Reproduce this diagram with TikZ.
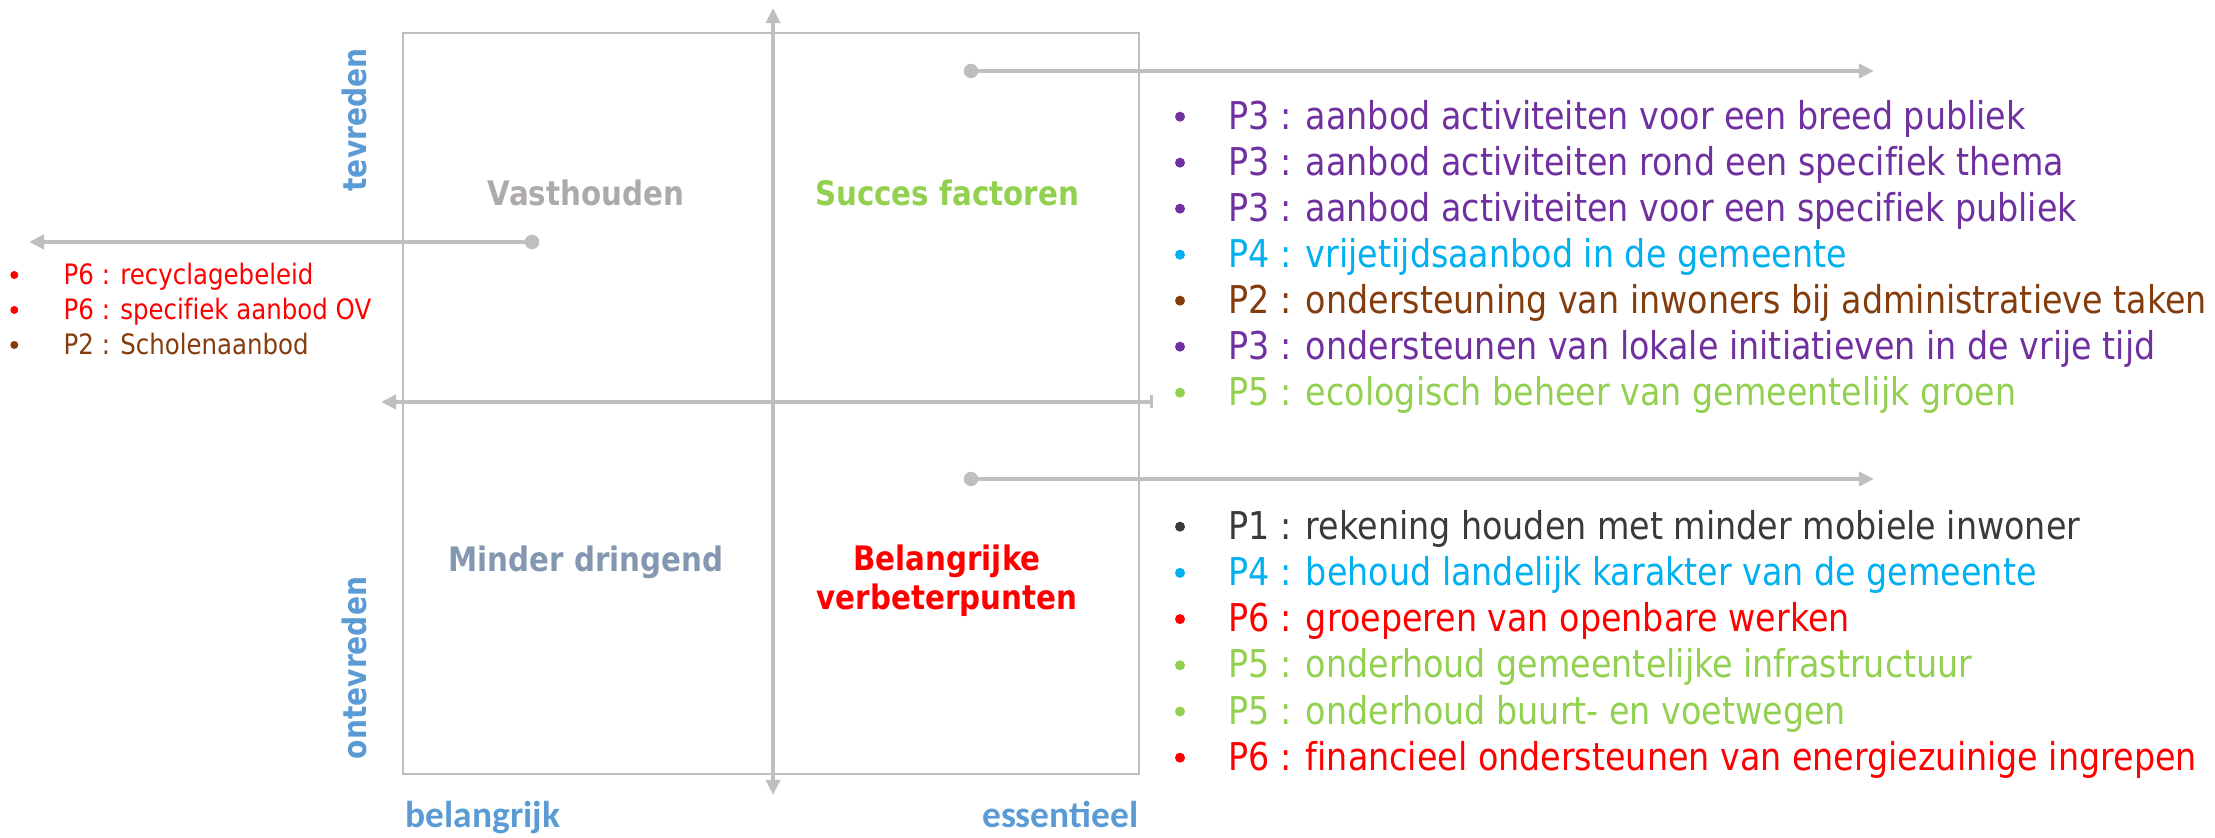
\documentclass[tikz,border=0pt]{standalone}
\usepackage{fontspec}
\setmainfont[FakeStretch=0.87, Ligatures=NoCommon]{DejaVu Sans}
\newfontfamily\calibrifont{Carlito}
\usetikzlibrary{arrows.meta}

\definecolor{linegray}{HTML}{BFBFBF}
\definecolor{keepgray}{HTML}{AEAAAA}
\definecolor{lessgray}{HTML}{8497B0}
\definecolor{axisblue}{HTML}{5B9BD5}
\definecolor{okgreen}{HTML}{92D050}
\definecolor{pone}{HTML}{3A3A3A}
\definecolor{ptwo}{HTML}{843C0C}
\definecolor{pthree}{HTML}{7030A0}
\definecolor{pfour}{HTML}{00B0F0}
\definecolor{psix}{HTML}{FF0000}

\tikzset{
  quadbox/.style={draw=linegray, line width=0.7pt},
  axisline/.style={draw=linegray, line width=1pt},
  leader/.style={draw=linegray, line width=1.1pt, -{Triangle[length=4.3pt, width=4pt]}},
  leaderdot/.style={circle, fill=linegray, inner sep=0pt, minimum size=1.45mm},
  quadlabel/.style={inner sep=0pt, font=\fontsize{9.6}{11.1}\selectfont\bfseries},
  sidelabel/.style={inner sep=0pt, text=axisblue, rotate=90, font=\fontsize{9.2}{11}\selectfont\bfseries},
  endlabel/.style={inner sep=0pt, text=axisblue, font=\calibrifont\bfseries\fontsize{10.65}{12}\selectfont},
  itembullet/.style={circle, inner sep=0pt, minimum size=1mm},
  itemtext/.style={inner sep=0pt, anchor=base west, font=\fontsize{10.9}{13}\selectfont},
  smallbullet/.style={circle, inner sep=0pt, minimum size=0.8mm},
  smalltext/.style={inner sep=0pt, anchor=base west, font=\fontsize{8}{10}\selectfont}
}

\begin{document}
\begin{tikzpicture}
  \useasboundingbox (0,0) rectangle (22.15,8.38);

  \draw[quadbox] (4.03,0.64) rectangle (11.39,8.05);

  \coordinate (vbot) at (7.73,0.43);
  \coordinate (vtop) at (7.73,8.30);
  \coordinate (hright) at (11.53,4.36);
  \coordinate (hleft) at (3.81,4.36);
  \draw[axisline, {Triangle[length=4.3pt, width=4pt]}-{Triangle[length=4.3pt, width=4pt]}] (vbot) -- (vtop);
  \draw[axisline, {Bar[width=3.7pt]}-{Triangle[length=4.3pt, width=4pt]}] (hright) -- (hleft);

  \node[sidelabel] (tevreden) at (3.54,7.18) {tevreden};
  \node[sidelabel] (ontevreden) at (3.54,1.70) {ontevreden};
  \node[endlabel, anchor=base west] (belangrijk) at (4.05,0.10) {belangrijk};
  \node[endlabel, anchor=base east] (essentieel) at (11.39,0.10) {essentieel};

  \node[quadlabel, text=keepgray, anchor=base] (vasthouden) at (5.86,6.32) {Vasthouden};
  \node[quadlabel, text=okgreen, anchor=base] (succes) at (9.47,6.32) {Succes factoren};
  \node[quadlabel, text=lessgray, anchor=base] (minder) at (5.86,2.66) {Minder dringend};
  \node[quadlabel, text=psix, align=center] (verbeter) at (9.47,2.57) {Belangrijke\\verbeterpunten};

  \node[leaderdot] (dotsucces) at (9.71,7.67) {};
  \node[leaderdot] (dotverbeter) at (9.71,3.59) {};
  \node[leaderdot] (dotvast) at (5.32,5.96) {};
  \coordinate (endsucces) at (18.74,7.67);
  \coordinate (endverbeter) at (18.74,3.59);
  \coordinate (endvast) at (0.29,5.96);
  \draw[leader] (dotsucces.center) -- (endsucces);
  \draw[leader] (dotverbeter.center) -- (endverbeter);
  \draw[leader] (dotvast.center) -- (endvast);

  \foreach \col/\txt [count=\i] in {
      pthree/P3 : aanbod activiteiten voor een breed publiek,
      pthree/P3 : aanbod activiteiten rond een specifiek thema,
      pthree/P3 : aanbod activiteiten voor een specifiek publiek,
      pfour/P4 : vrijetijdsaanbod in de gemeente,
      ptwo/P2 : ondersteuning van inwoners bij administratieve taken,
      pthree/P3 : ondersteunen van lokale initiatieven in de vrije tijd,
      okgreen/P5 : ecologisch beheer van gemeentelijk groen} {
    \node[itembullet, fill=\col] (sb\i) at (11.80,{7.213-0.46*(\i-1)}) {};
    \node[itemtext, text=\col] (st\i) at (12.28,{7.087-0.46*(\i-1)}) {\txt};
  }

  \foreach \col/\txt [count=\i] in {
      pone/P1 : rekening houden met minder mobiele inwoner,
      pfour/P4 : behoud landelijk karakter van de gemeente,
      psix/P6 : groeperen van openbare werken,
      okgreen/P5 : onderhoud gemeentelijke infrastructuur,
      okgreen/P5 : onderhoud buurt- en voetwegen,
      psix/P6 : financieel ondersteunen van energiezuinige ingrepen} {
    \node[itembullet, fill=\col] (vb\i) at (11.80,{3.113-0.462*(\i-1)}) {};
    \node[itemtext, text=\col] (vt\i) at (12.28,{2.987-0.462*(\i-1)}) {\txt};
  }

  \foreach \col/\txt [count=\i] in {
      psix/P6 : recyclagebeleid,
      psix/P6 : specifiek aanbod OV,
      ptwo/P2 : Scholenaanbod} {
    \node[smallbullet, fill=\col] (kb\i) at (0.143,{5.63-0.35*(\i-1)}) {};
    \node[smalltext, text=\col] (kt\i) at (0.63,{5.535-0.35*(\i-1)}) {\txt};
  }

\end{tikzpicture}
\end{document}
